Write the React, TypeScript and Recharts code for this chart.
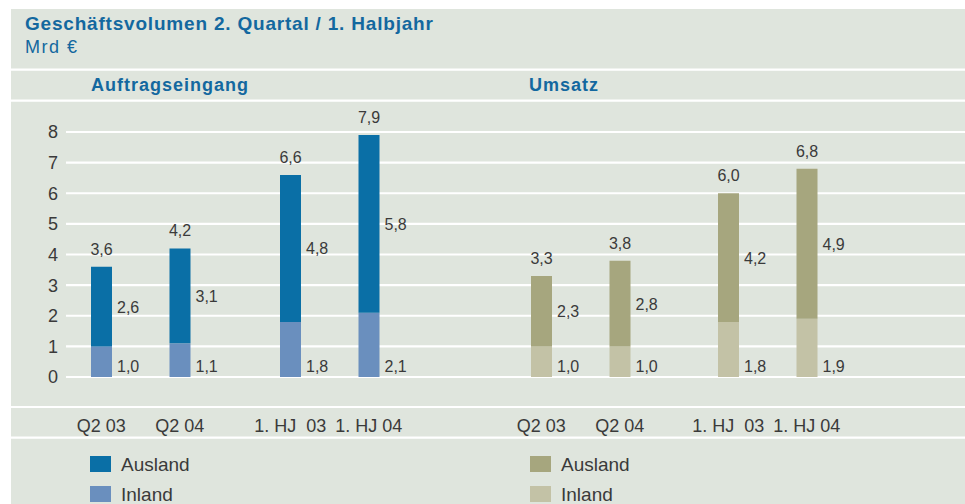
import React from 'react';
import { BarChart, Bar, XAxis, YAxis, CartesianGrid, LabelList } from 'recharts';

const categories = ['Q2 03', 'Q2 04', '1. HJ\u00a0 03', '1. HJ 04'];
const auftragInland = [1.0, 1.1, 1.8, 2.1];
const auftragAusland = [2.6, 3.1, 4.8, 5.8];
const auftragTotal = [3.6, 4.2, 6.6, 7.9];
const umsatzInland = [1.0, 1.0, 1.8, 1.9];
const umsatzAusland = [2.3, 2.8, 4.2, 4.9];
const umsatzTotal = [3.3, 3.8, 6.0, 6.8];
const yTicks = [0, 1, 2, 3, 4, 5, 6, 7, 8];

const FONT = '"Liberation Sans", Arial, Helvetica, sans-serif';
const BG = '#dfe5dd';
const TITLE_BLUE = '#13689f';
const TEXT = '#3a3a3a';
const BLUE_AUS = '#0a6fa6';
const BLUE_IN = '#6a8fbe';
const OLIVE_AUS = '#a6a67e';
const OLIVE_IN = '#c3c2a6';

const buildRows = (inl: number[], aus: number[], tot: number[]) =>
  categories.map((name, i) => ({ name, inland: inl[i], ausland: aus[i], total: tot[i] }));

const auftragRows = buildRows(auftragInland, auftragAusland, auftragTotal);
const umsatzRows = buildRows(umsatzInland, umsatzAusland, umsatzTotal);

const fmt = (v: any) => (typeof v === 'number' ? v.toFixed(1).replace('.', ',') : String(v));

const geom = (props: any) => {
  const vb = props.viewBox && typeof props.viewBox.x === 'number' ? props.viewBox : props;
  return {
    x: Number(vb.x ?? props.x),
    y: Number(vb.y ?? props.y),
    w: Number(vb.width ?? props.width),
    h: Number(vb.height ?? props.height),
  };
};

const SideLabel = (props: any) => {
  const { x, y, w, h } = geom(props);
  return (
    <text x={x + w + 5} y={y + h / 2 + 6} fontSize={16} fill={TEXT} fontFamily={FONT}>
      {fmt(props.value)}
    </text>
  );
};

const BottomLabel = (props: any) => {
  const { x, y, w, h } = geom(props);
  return (
    <text x={x + w + 5} y={y + h - 5} fontSize={16} fill={TEXT} fontFamily={FONT}>
      {fmt(props.value)}
    </text>
  );
};

const TopLabel = (props: any) => {
  const { x, y, w } = geom(props);
  return (
    <text x={x + w / 2} y={y - 12} fontSize={16} fill={TEXT} fontFamily={FONT} textAnchor="middle">
      {fmt(props.value)}
    </text>
  );
};

const PLOT_TOP = 132;
const PLOT_H = 245;
const PAIR_W = 157;

const PairChart = ({ rows, left, colAus, colIn }: any) => (
  <div style={{ position: 'absolute', left, top: 0 }}>
    <BarChart
      width={PAIR_W + 14}
      height={PLOT_TOP + PLOT_H + 60}
      data={rows}
      margin={{ top: PLOT_TOP, right: 14, left: 0, bottom: 0 }}
    >
      <XAxis
        dataKey="name"
        axisLine={false}
        tickLine={false}
        tickSize={0}
        tickMargin={42}
        height={60}
        interval={0}
        tick={{ fontSize: 18, fill: TEXT, fontFamily: FONT }}
      />
      <YAxis hide domain={[0, 8]} type="number" allowDataOverflow />
      <Bar dataKey="inland" stackId="s" fill={colIn} barSize={21} isAnimationActive={false}>
        <LabelList dataKey="inland" content={BottomLabel} />
      </Bar>
      <Bar dataKey="ausland" stackId="s" fill={colAus} barSize={21} isAnimationActive={false}>
        <LabelList dataKey="ausland" content={SideLabel} />
        <LabelList dataKey="total" content={TopLabel} />
      </Bar>
    </BarChart>
  </div>
);

export default function App() {
  const hLines = [69.7, 100.7, 407, 437.7];
  return (
    <div style={{ position: 'absolute', left: 0, top: 0, width: 965, height: 504, overflow: 'hidden', background: '#ffffff' }}>
      <svg width={965} height={504} style={{ position: 'absolute', left: 0, top: 0 }}>
        <rect x={11} y={9} width={954} height={495} fill={BG} />
        {hLines.map((y) => (
          <line key={y} x1={11} x2={965} y1={y} y2={y} stroke="#ffffff" strokeWidth={2.2} />
        ))}
        <text x={25} y={30} fontSize={19} letterSpacing={0.8} fontWeight="bold" fill={TITLE_BLUE} fontFamily={FONT}>
          Geschäftsvolumen 2. Quartal / 1. Halbjahr
        </text>
        <text x={25} y={53} fontSize={18} letterSpacing={1.5} fill={TITLE_BLUE} fontFamily={FONT}>
          Mrd €
        </text>
        <text x={91} y={91} fontSize={18} letterSpacing={1} fontWeight="bold" fill={TITLE_BLUE} fontFamily={FONT}>
          Auftragseingang
        </text>
        <text x={529} y={91} fontSize={18} letterSpacing={1} fontWeight="bold" fill={TITLE_BLUE} fontFamily={FONT}>
          Umsatz
        </text>
        <rect x={90} y={456} width={21} height={16} fill={BLUE_AUS} />
        <text x={121} y={471} fontSize={19} fill={TEXT} fontFamily={FONT}>Ausland</text>
        <rect x={90} y={486} width={21} height={16} fill={BLUE_IN} />
        <text x={121} y={501} fontSize={19} fill={TEXT} fontFamily={FONT}>Inland</text>
        <rect x={530} y={456} width={21} height={16} fill={OLIVE_AUS} />
        <text x={561} y={471} fontSize={19} fill={TEXT} fontFamily={FONT}>Ausland</text>
        <rect x={530} y={486} width={21} height={16} fill={OLIVE_IN} />
        <text x={561} y={501} fontSize={19} fill={TEXT} fontFamily={FONT}>Inland</text>
      </svg>
      <div style={{ position: 'absolute', left: 0, top: 0 }}>
        <BarChart
          width={965}
          height={504}
          data={auftragRows}
          margin={{ top: PLOT_TOP, right: 0, left: 0, bottom: 504 - PLOT_TOP - PLOT_H }}
        >
          <CartesianGrid horizontal vertical={false} stroke="#ffffff" strokeWidth={2.2} />
          <XAxis dataKey="name" hide />
          <YAxis
            type="number"
            domain={[0, 8]}
            ticks={yTicks}
            width={66}
            axisLine={false}
            tickLine={false}
            tickSize={0}
            tickMargin={8}
            tick={{ fontSize: 18, fill: TEXT, fontFamily: FONT }}
          />
          <Bar dataKey="total" fill="transparent" fillOpacity={0} isAnimationActive={false} />
        </BarChart>
      </div>
      <PairChart rows={auftragRows.slice(0, 2)} left={62} colAus={BLUE_AUS} colIn={BLUE_IN} />
      <PairChart rows={auftragRows.slice(2, 4)} left={250.5} colAus={BLUE_AUS} colIn={BLUE_IN} />
      <PairChart rows={umsatzRows.slice(0, 2)} left={501.5} colAus={OLIVE_AUS} colIn={OLIVE_IN} />
      <PairChart rows={umsatzRows.slice(2, 4)} left={689} colAus={OLIVE_AUS} colIn={OLIVE_IN} />
    </div>
  );
}
